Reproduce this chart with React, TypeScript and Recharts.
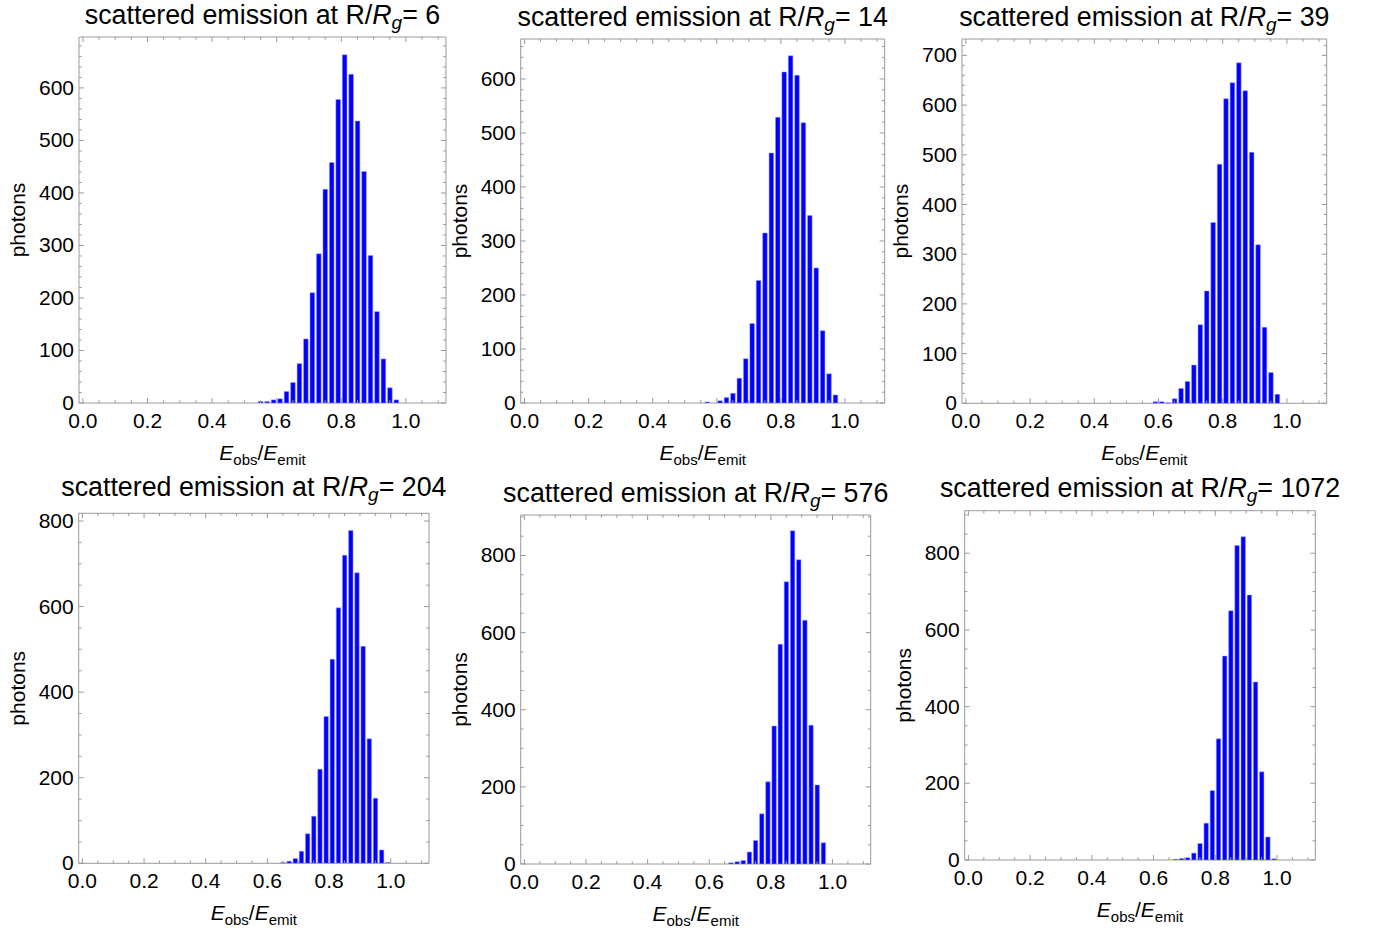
import React from 'react';
import { ComposedChart, Bar, XAxis, YAxis, ReferenceArea, Label } from 'recharts';

// R/Rg of each panel, in reading order
const radii = ['6', '14', '39', '204', '576', '1072'];

// bin centres (width 0.02) and photon counts
const bins6 = [0.55, 0.57, 0.59, 0.61, 0.63, 0.65, 0.67, 0.69, 0.71, 0.73, 0.75, 0.77, 0.79, 0.81, 0.83, 0.85, 0.87, 0.89, 0.91, 0.93, 0.95, 0.97];
const counts6 = [3, 3, 6, 8, 22, 39, 75, 122, 210, 284, 407, 458, 578, 663, 626, 537, 441, 281, 174, 84, 29, 6];

const bins14 = [0.57, 0.59, 0.61, 0.63, 0.65, 0.67, 0.69, 0.71, 0.73, 0.75, 0.77, 0.79, 0.81, 0.83, 0.85, 0.87, 0.89, 0.91, 0.93, 0.95, 0.97];
const counts14 = [2, 0, 4, 10, 18, 46, 82, 147, 227, 315, 463, 529, 613, 643, 607, 519, 347, 250, 134, 54, 15];

const bins39 = [0.59, 0.61, 0.63, 0.65, 0.67, 0.69, 0.71, 0.73, 0.75, 0.77, 0.79, 0.81, 0.83, 0.85, 0.87, 0.89, 0.91, 0.93, 0.95, 0.97];
const counts39 = [3, 3, 1, 9, 30, 44, 77, 158, 226, 364, 481, 613, 645, 685, 629, 505, 319, 153, 62, 18];

const bins204 = [0.65, 0.67, 0.69, 0.71, 0.73, 0.75, 0.77, 0.79, 0.81, 0.83, 0.85, 0.87, 0.89, 0.91, 0.93, 0.95, 0.97, 0.99];
const counts204 = [2, 5, 11, 28, 69, 110, 220, 343, 477, 597, 720, 778, 679, 507, 291, 152, 31, 2];

const bins576 = [0.67, 0.69, 0.71, 0.73, 0.75, 0.77, 0.79, 0.81, 0.83, 0.85, 0.87, 0.89, 0.91, 0.93, 0.95, 0.97];
const counts576 = [3, 6, 9, 31, 61, 130, 213, 358, 570, 732, 864, 789, 632, 360, 205, 55];

const bins1072 = [0.67, 0.69, 0.71, 0.73, 0.75, 0.77, 0.79, 0.81, 0.83, 0.85, 0.87, 0.89, 0.91, 0.93, 0.95, 0.97, 0.99];
const counts1072 = [2, 4, 6, 18, 43, 96, 181, 316, 532, 650, 820, 843, 691, 464, 230, 60, 3];

const FONT = '"Liberation Sans", Arial, Helvetica, sans-serif';
const FRAME = '#9a9a9a';
const X_DOMAIN: [number, number] = [-0.012, 1.124];
const AXIS_H = 30;
const AXIS_W = 50;

// frame rectangles (page pixels) and axis settings per panel
const panels = [
    { radius: radii[0], bins: bins6, counts: counts6, left: 79, top: 37, right: 446, bottom: 403, yMax: 697, yMajor: 100, yMinor: 20, titleY: 24 },
    { radius: radii[1], bins: bins14, counts: counts14, left: 520.7, top: 39, right: 884.7, bottom: 403, yMax: 674, yMajor: 100, yMinor: 20, titleY: 26 },
    { radius: radii[2], bins: bins39, counts: counts39, left: 962, top: 39, right: 1326.7, bottom: 403.3, yMax: 733, yMajor: 100, yMinor: 20, titleY: 26 },
    { radius: radii[3], bins: bins204, counts: counts204, left: 78.7, top: 513.3, right: 429, bottom: 863.3, yMax: 818, yMajor: 200, yMinor: 50, titleY: 496 },
    { radius: radii[4], bins: bins576, counts: counts576, left: 520.7, top: 515, right: 870.7, bottom: 864, yMax: 905, yMajor: 200, yMinor: 50, titleY: 501.7 },
    { radius: radii[5], bins: bins1072, counts: counts1072, left: 964.7, top: 510.7, right: 1315.3, bottom: 860, yMax: 911, yMajor: 200, yMinor: 50, titleY: 496.7 },
];

const steps = (stop: number, step: number) => {
    const out: number[] = [];
    for (let i = 0; i * step <= stop + 1e-9; i++) out.push(+(i * step).toFixed(4));
    return out;
};

const isMultiple = (v: number, m: number) => Math.abs(v / m - Math.round(v / m)) < 1e-6;

function Panel({ p }: { p: typeof panels[number] }) {
    const plotW = p.right - p.left;
    const plotH = p.bottom - p.top;
    const data = p.bins.map((x, i) => ({ x, count: p.counts[i] }));
    const binPx = (0.02 * plotW) / (X_DOMAIN[1] - X_DOMAIN[0]);
    const cx = (p.left + p.right) / 2;
    const cy = (p.top + p.bottom) / 2;

    const xTick = (props: any) => {
        const { x, y, payload } = props;
        const v = payload.value;
        const major = isMultiple(v, 0.2);
        const len = major ? 5 : 2.8;
        return (
            <g>
                <line x1={x} x2={x} y1={y} y2={y - len} stroke={FRAME} />
                <line x1={x} x2={x} y1={y - plotH} y2={y - plotH + len} stroke={FRAME} />
                {major && (
                    <text x={x} y={y + 24.5} textAnchor="middle" fontSize={21} fill="#000" fontFamily={FONT}>
                        {v.toFixed(1)}
                    </text>
                )}
            </g>
        );
    };

    const yTick = (props: any) => {
        const { x, y, payload } = props;
        const v = payload.value;
        const major = isMultiple(v, p.yMajor);
        const len = major ? 5 : 2.8;
        return (
            <g>
                <line x1={x} x2={x + len} y1={y} y2={y} stroke={FRAME} />
                <line x1={x + plotW} x2={x + plotW - len} y1={y} y2={y} stroke={FRAME} />
                {major && (
                    <text x={x - 5} y={y + 7} textAnchor="end" fontSize={21} fill="#000" fontFamily={FONT}>
                        {v}
                    </text>
                )}
            </g>
        );
    };

    return (
        <div style={{ position: 'absolute', left: 0, top: 0 }}>
            <ComposedChart
                width={1379}
                height={935}
                data={data}
                margin={{ top: p.top, left: p.left - AXIS_W, right: 1379 - p.right, bottom: 935 - p.bottom - AXIS_H }}
            >
                <XAxis
                    dataKey="x"
                    type="number"
                    domain={X_DOMAIN}
                    allowDataOverflow
                    ticks={steps(1.1, 0.05)}
                    interval={0}
                    height={AXIS_H}
                    tickSize={0}
                    tickMargin={0}
                    tickLine={false}
                    axisLine={false}
                    tick={xTick}
                >
                    <Label
                        content={() => (
                            <text x={cx} y={p.bottom + 57} textAnchor="middle" fontSize={21} fill="#000" fontFamily={FONT}>
                                <tspan fontStyle="italic">E</tspan>
                                <tspan fontSize={15} dy={5}>obs</tspan>
                                <tspan dy={-5}>/</tspan>
                                <tspan fontStyle="italic">E</tspan>
                                <tspan fontSize={15} dy={5}>emit</tspan>
                            </text>
                        )}
                    />
                </XAxis>
                <YAxis
                    type="number"
                    domain={[0, p.yMax]}
                    allowDataOverflow
                    ticks={steps(p.yMax, p.yMinor)}
                    interval={0}
                    width={AXIS_W}
                    tickSize={0}
                    tickMargin={0}
                    tickLine={false}
                    axisLine={false}
                    tick={yTick}
                >
                    <Label
                        content={() => (
                            <g>
                                <text
                                    x={p.left - 54}
                                    y={cy}
                                    transform={`rotate(-90 ${p.left - 54} ${cy})`}
                                    textAnchor="middle"
                                    fontSize={21}
                                    fill="#000"
                                    fontFamily={FONT}
                                >
                                    photons
                                </text>
                                <text x={cx} y={p.titleY} textAnchor="middle" fontSize={26.8} fill="#000" fontFamily={FONT}>
                                    scattered emission at R/<tspan fontStyle="italic">R</tspan>
                                    <tspan fontStyle="italic" fontSize={19} dy={5}>g</tspan>
                                    <tspan dy={-5}>= {p.radius}</tspan>
                                </text>
                            </g>
                        )}
                    />
                </YAxis>
                <ReferenceArea
                    x1={X_DOMAIN[0]}
                    x2={X_DOMAIN[1]}
                    y1={0}
                    y2={p.yMax}
                    fill="none"
                    stroke={FRAME}
                    strokeWidth={1}
                    ifOverflow="visible"
                />
                <Bar
                    dataKey="count"
                    barSize={binPx * 0.72}
                    fill="#0000ff"
                    stroke="#9c9cff"
                    strokeWidth={0.5}
                    isAnimationActive={false}
                />
            </ComposedChart>
        </div>
    );
}

export default function App() {
    return (
        <div style={{ position: 'absolute', left: 0, top: 0, width: 1379, height: 935, background: '#fff' }}>
            {panels.map((p) => (
                <Panel key={p.radius} p={p} />
            ))}
        </div>
    );
}
